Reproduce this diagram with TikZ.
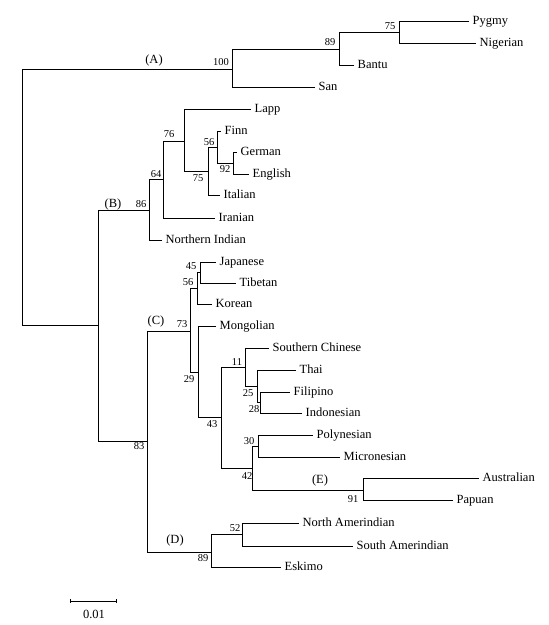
\documentclass[tikz,border=0pt]{standalone}
\usepackage{fontspec}
\setmainfont{Liberation Serif}
\usetikzlibrary{arrows.meta}
\begin{document}
\begin{tikzpicture}[x=1pt,y=-1pt,
  branch/.style={line width=1pt, black, line cap=rect},
  taxon/.style={anchor=west, inner xsep=4.5pt, inner ysep=0pt, text height=7pt, text depth=0pt, font=\fontsize{12.5}{14}\selectfont},
  boot/.style={inner sep=0pt, font=\fontsize{10.5}{12}\selectfont},
  clade/.style={inner sep=0pt, font=\fontsize{12.5}{14}\selectfont}]
\useasboundingbox[fill=white] (0,0) rectangle (549,625);

% internal nodes
\coordinate (root) at (22,197);
\coordinate (n100) at (232,69);
\coordinate (n89a) at (339,49);
\coordinate (n75a) at (399,32);
\coordinate (nB) at (98,325);
\coordinate (n86) at (149,210);
\coordinate (n64) at (163,179);
\coordinate (n76) at (184,141);
\coordinate (n75b) at (208,171);
\coordinate (n56a) at (217,147);
\coordinate (n92) at (233,163);
\coordinate (n83) at (147,441);
\coordinate (n73) at (190,331);
\coordinate (n56b) at (197,288);
\coordinate (n45) at (200,272);
\coordinate (n29) at (198,372);
\coordinate (n43) at (221,417);
\coordinate (n11) at (245,367);
\coordinate (n25) at (257,386);
\coordinate (n28) at (260,402);
\coordinate (n42) at (252,468);
\coordinate (n30) at (258,446);
\coordinate (n91) at (363,490);
\coordinate (n89b) at (211,552);
\coordinate (n52) at (242,534);

% leaves
\node[taxon] (pygmy) at (468,21) {Pygmy};
\node[taxon] (nigerian) at (475,43) {Nigerian};
\node[taxon] (bantu) at (353,65) {Bantu};
\node[taxon] (san) at (314,87) {San};
\node[taxon] (lapp) at (250,109) {Lapp};
\node[taxon] (finn) at (220,131) {Finn};
\node[taxon] (german) at (236,152) {German};
\node[taxon] (english) at (248,174) {English};
\node[taxon] (italian) at (219,195) {Italian};
\node[taxon] (iranian) at (214,218) {Iranian};
\node[taxon] (nindian) at (161,240) {Northern Indian};
\node[taxon] (japanese) at (215,262) {Japanese};
\node[taxon] (tibetan) at (235,283) {Tibetan};
\node[taxon] (korean) at (211,304) {Korean};
\node[taxon] (mongolian) at (215,326) {Mongolian};
\node[taxon] (schinese) at (268,348) {Southern Chinese};
\node[taxon] (thai) at (295,370) {Thai};
\node[taxon] (filipino) at (289,392) {Filipino};
\node[taxon] (indonesian) at (301,413) {Indonesian};
\node[taxon] (polynesian) at (312,435) {Polynesian};
\node[taxon] (micronesian) at (339,457) {Micronesian};
\node[taxon] (australian) at (478,478) {Australian};
\node[taxon] (papuan) at (452,500) {Papuan};
\node[taxon] (namerind) at (298,523) {North Amerindian};
\node[taxon] (samerind) at (352,546) {South Amerindian};
\node[taxon] (eskimo) at (280,567) {Eskimo};

% branches
\draw[branch] (root) |- (n100);
\draw[branch] (root) |- (nB);
\draw[branch] (n100) |- (n89a);
\draw[branch] (n100) |- (san.west);
\draw[branch] (n89a) |- (n75a);
\draw[branch] (n89a) |- (bantu.west);
\draw[branch] (n75a) |- (pygmy.west);
\draw[branch] (n75a) |- (nigerian.west);
\draw[branch] (nB) |- (n86);
\draw[branch] (nB) |- (n83);
\draw[branch] (n86) |- (n64);
\draw[branch] (n86) |- (nindian.west);
\draw[branch] (n64) |- (n76);
\draw[branch] (n64) |- (iranian.west);
\draw[branch] (n76) |- (lapp.west);
\draw[branch] (n76) |- (n75b);
\draw[branch] (n75b) |- (n56a);
\draw[branch] (n75b) |- (italian.west);
\draw[branch] (n56a) |- (finn.west);
\draw[branch] (n56a) |- (n92);
\draw[branch] (n92) |- (german.west);
\draw[branch] (n92) |- (english.west);
\draw[branch] (n83) |- (n73);
\draw[branch] (n83) |- (n89b);
\draw[branch] (n73) |- (n56b);
\draw[branch] (n73) |- (n29);
\draw[branch] (n56b) |- (n45);
\draw[branch] (n56b) |- (korean.west);
\draw[branch] (n45) |- (japanese.west);
\draw[branch] (n45) |- (tibetan.west);
\draw[branch] (n29) |- (mongolian.west);
\draw[branch] (n29) |- (n43);
\draw[branch] (n43) |- (n11);
\draw[branch] (n43) |- (n42);
\draw[branch] (n11) |- (schinese.west);
\draw[branch] (n11) |- (n25);
\draw[branch] (n25) |- (thai.west);
\draw[branch] (n25) |- (n28);
\draw[branch] (n28) |- (filipino.west);
\draw[branch] (n28) |- (indonesian.west);
\draw[branch] (n42) |- (n30);
\draw[branch] (n42) |- (n91);
\draw[branch] (n30) |- (polynesian.west);
\draw[branch] (n30) |- (micronesian.west);
\draw[branch] (n91) |- (australian.west);
\draw[branch] (n91) |- (papuan.west);
\draw[branch] (n89b) |- (n52);
\draw[branch] (n89b) |- (eskimo.west);
\draw[branch] (n52) |- (namerind.west);
\draw[branch] (n52) |- (samerind.west);

% bootstrap values
\node[boot] (b100) at (221,62) {100};
\node[boot] (b89a) at (330,42) {89};
\node[boot] (b75a) at (390,26) {75};
\node[boot] (b86) at (141,204) {86};
\node[boot] (b64) at (156,174) {64};
\node[boot] (b76) at (169,134) {76};
\node[boot] (b75b) at (198,178) {75};
\node[boot] (b56a) at (209,142) {56};
\node[boot] (b92) at (225,169) {92};
\node[boot] (b45) at (191,266) {45};
\node[boot] (b56b) at (188,282) {56};
\node[boot] (b73) at (182,324) {73};
\node[boot] (b29) at (189,379) {29};
\node[boot] (b11) at (237,362) {11};
\node[boot] (b25) at (248,393) {25};
\node[boot] (b28) at (254,409) {28};
\node[boot] (b43) at (212,424) {43};
\node[boot] (b30) at (249,441) {30};
\node[boot] (b42) at (247,476) {42};
\node[boot] (b91) at (353,499) {91};
\node[boot] (b83) at (139,446) {83};
\node[boot] (b89b) at (203,558) {89};
\node[boot] (b52) at (235,528) {52};

% clade labels
\node[clade] (cA) at (154,60) {(A)};
\node[clade] (cB) at (113,204) {(B)};
\node[clade] (cC) at (156,321) {(C)};
\node[clade] (cD) at (175,540) {(D)};
\node[clade] (cE) at (320,480) {(E)};

% scale bar
\coordinate (sbL) at (70,601);
\coordinate (sbR) at (117,601);
\draw[line width=0.6pt, {Bar[width=4pt]}-{Bar[width=4pt]}] (sbL) -- (sbR);
\node[clade] (sblabel) at (94,614) {0.01};
\end{tikzpicture}
\end{document}
